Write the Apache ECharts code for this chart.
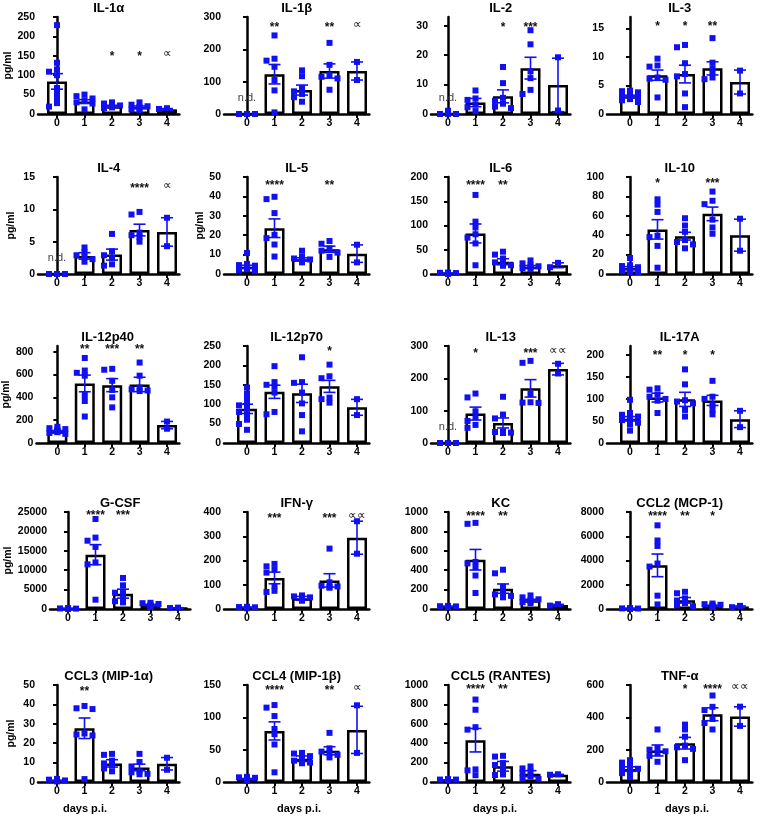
<!DOCTYPE html>
<html><head><meta charset="utf-8">
<script src="https://cdn.jsdelivr.net/npm/echarts@6/dist/echarts.min.js"></script>
<style>html,body{margin:0;padding:0;background:#fff}#c{width:760px;height:818px}</style>
</head><body><div id="c"></div>
<script>
// ---------- DATA ----------
const categories = [0, 1, 2, 3, 4];
const xAxisTitle = 'days p.i.';
const unitLabel = 'pg/ml';

const il1a_mean = [84, 32, 20, 18, 12];
const il1a_sem = [20, 5, 2.5, 2.8, 2];
const il1a_pts = [[229,132,115,109,100,67,52,40,28,19],[50,46,40,35,30,27,12],[30,27,22,20,18,17,15],[30,24,20,18,15,12,10],[15,13]];
const il1a_sig = ['', '', '*', '*', '∝'];
const il1a_ticks = [0,50,100,150,200,250];

const il1b_mean = [0, 123, 74, 133, 133];
const il1b_sem = [0, 30, 15.5, 22, 28];
const il1b_pts = [[0,0,0],[243,171,165,146,105,73,5],[135,117,80,70,62,52,38],[220,152,120,115,110,75],[161,105]];
const il1b_sig = ['n.d.', '**', '', '**', '∝'];
const il1b_ticks = [0,100,200,300];

const il2_mean = [0, 3.9, 6.0, 15.6, 9.9];
const il2_sem = [0, 1.4, 2.2, 3.7, 9.1];
const il2_pts = [[0,0,0,1.1],[8,5.3,4.8,3.2,2.3,1.0],[16,10.5,5.5,4.5,3.5,2.5,2.0],[28.5,23.7,14.5,12.2,8.2,6.8],[19.3,1.2]];
const il2_sig = ['n.d.', '', '*', '***', ''];
const il2_ticks = [0,10,20,30];

const il3_mean = [3.1, 6.8, 7.0, 8.0, 5.6];
const il3_sem = [0.2, 0.9, 1.55, 1.15, 2.1];
const il3_pts = [[4.1,4.0,3.8,3.5,3.3,3.2,3.0,2.9,2.6,2.4,2.1],[9.7,8.5,8.3,6.4,6.2,6.0,2.9],[12.1,11.7,8.9,7.0,6.6,3.6,1.2],[13.3,9.0,8.0,7.2,6.4,6.1],[7.6,3.6]];
const il3_sig = ['', '*', '*', '**', ''];
const il3_ticks = [0,5,10,15];

const il4_mean = [0, 2.8, 3.0, 6.8, 6.5];
const il4_sem = [0, 0.5, 0.85, 0.9, 2.2];
const il4_pts = [[0,0,0],[4.1,3.4,2.9,2.6,2.3,1.9],[6.2,3.5,2.9,2.5,1.5,1.3],[9.6,9.2,6.4,6.0,5.7,5.0],[8.7,4.3]];
const il4_sig = ['n.d.', '', '', '****', '∝'];
const il4_ticks = [0,5,10,15];

const il5_mean = [3.7, 23.6, 7.65, 12.75, 10.5];
const il5_sem = [0.8, 4.8, 0.7, 1.6, 4.5];
const il5_pts = [[10.8,5.2,4.6,4.3,4.0,3.6,3.2,2.9,2.4,1.9,1.5],[39.8,38.6,31.4,20.2,18.5,15.2,9.0],[12.0,9.0,8.0,7.5,7.0,6.5,6.0],[17.0,15.6,13.2,12.0,11.0,8.8],[15.1,6.0]];
const il5_sig = ['', '****', '', '**', ''];
const il5_ticks = [0,10,20,30,40,50];

const il6_mean = [1.5, 83.6, 25.3, 15, 18];
const il6_sem = [0.4, 19.5, 6.2, 2.5, 5];
const il6_pts = [[3,2.5,2,1.5,1,1,0.5,0.5],[163,108,96,82,75,63,18],[46,40,32,24,21,18,17],[28,22,18,16,14,12,10],[23,14]];
const il6_sig = ['', '****', '**', '', ''];
const il6_ticks = [0,50,100,150,200];

const il10_mean = [6.1, 46, 39, 62, 40];
const il10_sem = [1.5, 10, 4, 7, 16.5];
const il10_pts = [[16.5,9.0,8.2,7.0,6.0,5.0,4.0,3.0,2.0,1.5],[77,71.5,64,39.5,38,29,6.5],[57.5,50,43.5,35,33,30.5,26.5],[85,75.5,72,56,48,41.5],[57,24]];
const il10_sig = ['', '*', '', '***', ''];
const il10_ticks = [0,20,40,60,80,100];

const il12p40_mean = [103, 522, 507, 513, 157];
const il12p40_sem = [6, 73, 57, 63, 32];
const il12p40_pts = [[142,130,122,115,110,104,100,95,88,80],[745,635,615,590,420,368,232],[650,642,545,465,400,312],[705,590,485,470,460,455],[188,125]];
const il12p40_sig = ['', '**', '***', '**', ''];
const il12p40_ticks = [0,200,400,600,800];

const il12p70_mean = [88, 132, 128, 146, 92];
const il12p70_sem = [12, 17, 23.5, 15.5, 20.5];
const il12p70_pts = [[143,127,113,101,97,88,80,73,60,49,34],[198,157,150,145,130,80,74],[221,157,155,130,102,72,30],[202,172,167,117,113,104],[113,72]];
const il12p70_sig = ['', '', '', '*', ''];
const il12p70_ticks = [0,50,100,150,200,250];

const il13_mean = [0, 91, 62, 169, 228.5];
const il13_sem = [0, 20, 15.5, 27, 18];
const il13_pts = [[0,0,0],[153,141,98,80,68,56,47],[143,88,76,36,34,32,31],[254,248,152,126,125,124],[245,215]];
const il13_sig = ['n.d.', '*', '', '***', '∝∝'];
const il13_ticks = [0,100,200,300];

const il17a_mean = [55, 103, 99, 96.6, 54];
const il17a_sem = [5, 10, 16, 11.5, 19];
const il17a_pts = [[98,68,64,60,58,55,52,50,46,42,28],[124,121,110,105,100,96,68],[167,133,97,94,90,75,60],[141,105,100,87,76,65],[73,36]];
const il17a_sig = ['', '**', '*', '*', ''];
const il17a_ticks = [0,50,100,150,200];

const gcsf_mean = [80, 14000, 3950, 1030, 260];
const gcsf_sem = [20, 2580, 1160, 160, 60];
const gcsf_pts = [[200,150,100,100,80,60,50,40,30],[23200,18400,17600,16000,12000,11500,2400],[8000,6100,4500,4200,3000,2000,1700],[1600,1500,1300,1000,900,700,500],[350,250]];
const gcsf_sig = ['', '****', '***', '', ''];
const gcsf_ticks = [0,5000,10000,15000,20000,25000];

const ifng_mean = [7, 128, 44, 118, 294];
const ifng_sem = [1, 24, 8, 27.5, 68];
const ifng_pts = [[9,8,7,6,6,5,4,3],[186,176,162,150,95,75,70],[56,52,48,45,42,38,34],[249,110,96,93,90,88],[362,228]];
const ifng_sig = ['', '***', '', '***', '∝∝'];
const ifng_ticks = [0,100,200,300,400];

const kc_mean = [27, 508, 210, 90, 41];
const kc_sem = [2.5, 106, 48, 10, 7];
const kc_pts = [[32,29,27,25,22,20,18],[888,878,485,470,430,345,165],[405,368,230,170,150,135,120],[140,120,100,90,80,70,60],[50,35]];
const kc_sig = ['', '****', '**', '', ''];
const kc_ticks = [0,200,400,600,800,1000];

const ccl2_mean = [30, 3600, 715, 275, 190];
const ccl2_sem = [8, 935, 230, 40, 60];
const ccl2_pts = [[60,50,40,30,30,20,20],[6900,5650,5200,3750,3500,1100,380],[1420,1300,880,700,480,300,220],[450,400,350,300,250,200,150],[260,150]];
const ccl2_sig = ['', '****', '**', '*', ''];
const ccl2_ticks = [0,2000,4000,6000,8000];

const ccl3_mean = [0.7, 27.7, 9.6, 7.5, 9.4];
const ccl3_sem = [0.25, 5.3, 1.9, 1.7, 3.2];
const ccl3_pts = [[1.6,1.2,0.8,0.5,0.3],[39.2,38.0,37.6,25.0,24.5,24.0,1.5],[14.5,14.0,11.0,9.6,8.5,7.0,5.5],[14.5,10.3,8.0,5.5,5.0,4.2,4.0],[12.5,6.3]];
const ccl3_sig = ['', '**', '', '', ''];
const ccl3_ticks = [0,10,20,30,40,50];

const ccl4_mean = [4.6, 79, 36, 48.3, 80.6];
const ccl4_sem = [0.8, 14, 4.3, 6.2, 36.5];
const ccl4_pts = [[8.0,7.2,6.5,5.5,4.8,4.2,3.5,2.5,1.5],[119,115,102,82,74,58,15],[45,44,40,36,33,30,29],[76,52,47,45,42,38],[118.6,45]];
const ccl4_sig = ['', '****', '', '**', '∝'];
const ccl4_ticks = [0,50,100,150];

const ccl5_mean = [20, 431, 162, 86, 76];
const ccl5_sem = [3, 121, 50, 31, 3];
const ccl5_pts = [[30,25,25,20,15,12,10],[850,745,565,540,130,120,70],[270,262,195,175,130,78,72],[160,140,108,92,55,40,32],[80,75]];
const ccl5_sig = ['', '****', '**', '', ''];
const ccl5_ticks = [0,200,400,600,800,1000];

const tnfa_mean = [80, 195, 240, 419, 405];
const tnfa_sem = [14, 34, 36, 40, 60];
const tnfa_pts = [[135,120,100,88,82,76,70,62,55,30],[325,210,200,190,178,162,125],[355,325,280,225,215,205,135],[535,465,445,390,365,325],[466,347]];
const tnfa_sig = ['', '', '*', '****', '∝∝'];
const tnfa_ticks = [0,200,400,600];

// panel registry (row-major, 4 per row)
const panels = [
  {t:'IL-1α', m:il1a_mean, e:il1a_sem, p:il1a_pts, s:il1a_sig, ticks:il1a_ticks, max:250, lv:155, yName:true, nameGap:21},
  {t:'IL-1β', m:il1b_mean, e:il1b_sem, p:il1b_pts, s:il1b_sig, ticks:il1b_ticks, max:300, lv:275},
  {t:'IL-2', m:il2_mean, e:il2_sem, p:il2_pts, s:il2_sig, ticks:il2_ticks, max:33, lv:30.5},
  {t:'IL-3', m:il3_mean, e:il3_sem, p:il3_pts, s:il3_sig, ticks:il3_ticks, max:17, lv:15.8},
  {t:'IL-4', m:il4_mean, e:il4_sem, p:il4_pts, s:il4_sig, ticks:il4_ticks, max:15, lv:13.7, yName:true, nameGap:21},
  {t:'IL-5', m:il5_mean, e:il5_sem, p:il5_pts, s:il5_sig, ticks:il5_ticks, max:50, lv:47, yName:true, nameGap:12},
  {t:'IL-6', m:il6_mean, e:il6_sem, p:il6_pts, s:il6_sig, ticks:il6_ticks, max:200, lv:188},
  {t:'IL-10', m:il10_mean, e:il10_sem, p:il10_pts, s:il10_sig, ticks:il10_ticks, max:100, lv:96},
  {t:'IL-12p40', m:il12p40_mean, e:il12p40_sem, p:il12p40_pts, s:il12p40_sig, ticks:il12p40_ticks, max:850, lv:840, yName:true, nameGap:21, axisX:36},
  {t:'IL-12p70', m:il12p70_mean, e:il12p70_sem, p:il12p70_pts, s:il12p70_sig, ticks:il12p70_ticks, max:250, lv:243},
  {t:'IL-13', m:il13_mean, e:il13_sem, p:il13_pts, s:il13_sig, ticks:il13_ticks, max:300, lv:287},
  {t:'IL-17A', m:il17a_mean, e:il17a_sem, p:il17a_pts, s:il17a_sig, ticks:il17a_ticks, max:220, lv:204},
  {t:'G-CSF', m:gcsf_mean, e:gcsf_sem, p:gcsf_pts, s:gcsf_sig, ticks:gcsf_ticks, max:25000, lv:24800, yName:true, nameGap:35, axisX:50, cat0:68},
  {t:'IFN-γ', m:ifng_mean, e:ifng_sem, p:ifng_pts, s:ifng_sig, ticks:ifng_ticks, max:400, lv:385},
  {t:'KC', m:kc_mean, e:kc_sem, p:kc_pts, s:kc_sig, ticks:kc_ticks, max:1000, lv:980},
  {t:'CCL2 (MCP-1)', m:ccl2_mean, e:ccl2_sem, p:ccl2_pts, s:ccl2_sig, ticks:ccl2_ticks, max:8000, lv:7830},
  {t:'CCL3 (MIP-1α)', m:ccl3_mean, e:ccl3_sem, p:ccl3_pts, s:ccl3_sig, ticks:ccl3_ticks, max:50, lv:48.3, yName:true, nameGap:21},
  {t:'CCL4 (MIP-1β)', m:ccl4_mean, e:ccl4_sem, p:ccl4_pts, s:ccl4_sig, ticks:ccl4_ticks, max:150, lv:146},
  {t:'CCL5 (RANTES)', m:ccl5_mean, e:ccl5_sem, p:ccl5_pts, s:ccl5_sig, ticks:ccl5_ticks, max:1000, lv:979},
  {t:'TNF-α', m:tnfa_mean, e:tnfa_sem, p:tnfa_pts, s:tnfa_sig, ticks:tnfa_ticks, max:600, lv:590}
];

// ---------- LAYOUT / STYLE ----------
const FONT = '"Liberation Sans", Arial, Helvetica, sans-serif';
const BLUE = '#1010f2';
const PLOT_H = 97, SP = 27.5, XMAX = 4.45;
const rowTop = [17, 177, 346, 512, 685];
const colAxisX = [38, 224, 431, 607];
const colCat0 = [57, 247, 448, 630];
const dayNameX = [85, 299, 495, 687];

function swarm(vals, max) {
  const ppu = PLOT_H / max, placed = [], out = [];
  const order = vals.map((v, i) => i).sort((a, b) => vals[b] - vals[a]);
  const cands = [0, -4, 4, -8, 8, -11, 11];
  order.forEach(i => {
    const py = vals[i] * ppu;
    for (const dx of cands) {
      if (placed.every(q => Math.abs(q[0] - dx) >= 4.5 || Math.abs(q[1] - py) >= 4.5)) {
        placed.push([dx, py]); out[i] = dx; return;
      }
    }
    placed.push([0, py]); out[i] = 0;
  });
  return out;
}

const option = {animation: false, backgroundColor: '#fff', textStyle: {fontFamily: FONT},
  title: [], grid: [], xAxis: [], yAxis: [], series: []};

panels.forEach((P, i) => {
  const row = Math.floor(i / 4), col = i % 4;
  const ax = P.axisX ?? colAxisX[col];
  const c0 = P.cat0 ?? colCat0[col];
  const xmin = -(c0 - ax) / SP;
  const top = rowTop[row];
  const w = (XMAX - xmin) * SP;
  option.grid.push({left: ax, top: top, width: w, height: PLOT_H});
  option.title.push({text: P.t, left: ax + w / 2, top: top - 15, textAlign: 'center', padding: 0,
    textStyle: {fontFamily: FONT, fontWeight: 'bold', fontSize: 13, color: '#000'}});
  if (row === 4) {
    option.title.push({text: xAxisTitle, left: dayNameX[col], top: 803, textAlign: 'center', padding: 0,
      textStyle: {fontFamily: FONT, fontWeight: 'bold', fontSize: 11, color: '#000'}});
  }
  option.xAxis.push({type: 'value', gridIndex: i, min: xmin, max: XMAX,
    axisLine: {show: true, onZero: false, lineStyle: {color: '#000', width: 2.5}},
    axisTick: {show: true, customValues: categories, length: 4, lineStyle: {color: '#000', width: 2}},
    axisLabel: {customValues: categories, formatter: v => String(Math.round(v)), color: '#000',
      fontFamily: FONT, fontWeight: 'bold', fontSize: 10.5, margin: 4},
    splitLine: {show: false}});
  option.yAxis.push({type: 'value', gridIndex: i, min: 0, max: P.max,
    axisLine: {show: true, lineStyle: {color: '#000', width: 2.5}},
    axisTick: {show: true, customValues: P.ticks, length: 4, lineStyle: {color: '#000', width: 2}},
    axisLabel: {customValues: P.ticks, formatter: v => String(v), color: '#000',
      fontFamily: FONT, fontWeight: 'bold', fontSize: 10.5, margin: 3},
    splitLine: {show: false},
    name: P.yName ? unitLabel : '', nameLocation: 'middle', nameRotate: 90, nameGap: P.nameGap || 20,
    nameTextStyle: {fontFamily: FONT, fontWeight: 'bold', fontSize: 10.5, color: '#000'}});

  option.series.push({type: 'bar', xAxisIndex: i, yAxisIndex: i, barWidth: 20, silent: true, z: 2,
    data: P.m.map((v, k) => [categories[k], v]),
    itemStyle: {color: '#fff', borderColor: '#000', borderWidth: 2.5}});

  const ptsData = [];
  P.p.forEach((grp, k) => {
    const dx = swarm(grp, P.max);
    grp.forEach((v, j) => ptsData.push([categories[k] + dx[j] / SP, v]));
  });
  option.series.push({type: 'scatter', xAxisIndex: i, yAxisIndex: i, symbol: 'rect', symbolSize: 6,
    silent: true, z: 4, clip: false, itemStyle: {color: BLUE, opacity: 1}, data: ptsData});

  option.series.push({type: 'custom', xAxisIndex: i, yAxisIndex: i, z: 5, silent: true,
    data: P.m.map((v, k) => [categories[k], v - P.e[k], v + P.e[k]]),
    renderItem: (params, api) => {
      const k = params.dataIndex;
      if (!P.e[k]) return null;
      const lo = api.coord([api.value(0), api.value(1)]);
      const hi = api.coord([api.value(0), api.value(2)]);
      const cw = 6, st = {stroke: BLUE, lineWidth: 1.6};
      return {type: 'group', children: [
        {type: 'line', shape: {x1: lo[0], y1: lo[1], x2: hi[0], y2: hi[1]}, style: st},
        {type: 'line', shape: {x1: hi[0] - cw, y1: hi[1], x2: hi[0] + cw, y2: hi[1]}, style: st},
        {type: 'line', shape: {x1: lo[0] - cw, y1: lo[1], x2: lo[0] + cw, y2: lo[1]}, style: st}
      ]};
    }});

  option.series.push({type: 'custom', xAxisIndex: i, yAxisIndex: i, z: 6, silent: true,
    data: P.s.map((s, k) => [categories[k], s === 'n.d.' ? 0 : P.lv]),
    renderItem: (params, api) => {
      const txt = P.s[params.dataIndex];
      if (!txt) return null;
      const pt = api.coord([api.value(0), api.value(1)]);
      if (txt === 'n.d.') {
        return {type: 'text', x: pt[0], y: pt[1] - 16,
          style: {text: txt, align: 'center', verticalAlign: 'middle', fill: '#444', font: '11px ' + FONT}};
      }
      const star = txt.indexOf('*') >= 0;
      return {type: 'text', x: pt[0], y: pt[1] + (star ? 3 : 0),
        style: {text: txt, align: 'center', verticalAlign: 'middle', fill: '#111',
          font: (star ? 'bold 12px ' : '12px ') + FONT}};
    }});
});

const chart = echarts.init(document.getElementById('c'), null, {renderer: 'canvas'});
chart.setOption(option);
</script>
</body></html>
